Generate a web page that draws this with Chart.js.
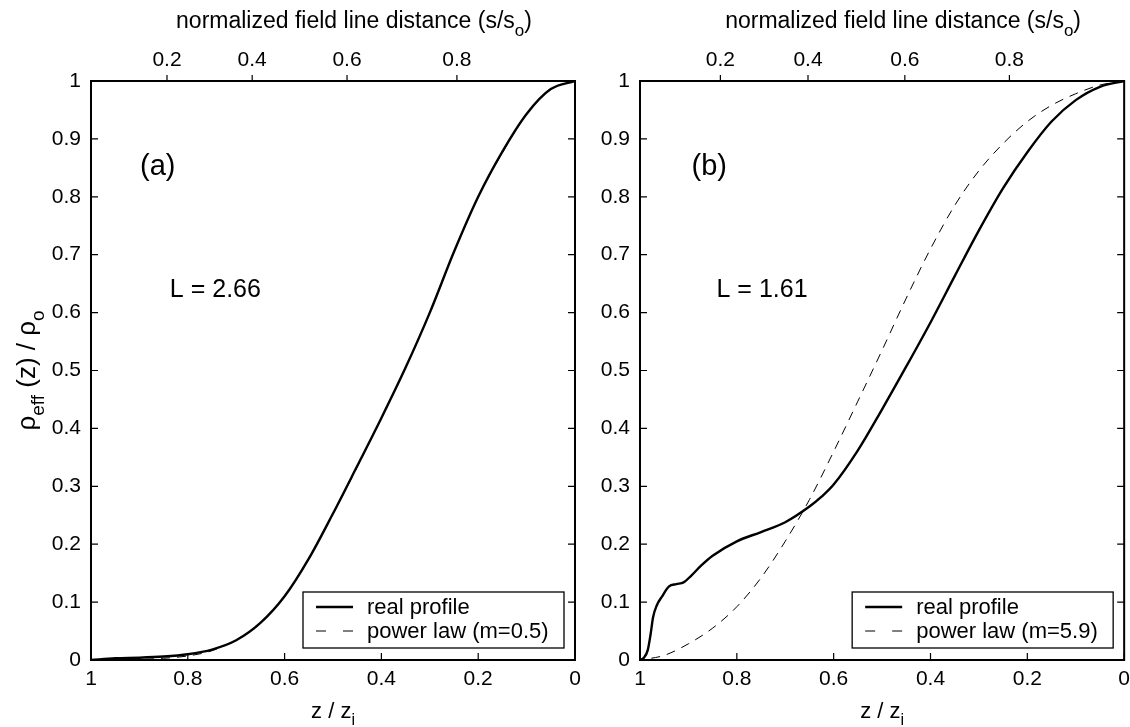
<!DOCTYPE html>
<html><head><meta charset="utf-8">
<script src="https://cdn.jsdelivr.net/npm/chart.js@4.4.1/dist/chart.umd.min.js"></script>
<style>
html,body{margin:0;padding:0;background:#fff;}
#wrap{position:relative;width:1130px;height:727px;overflow:hidden;background:#fff;}
.pane{position:absolute;top:0;height:727px;}
</style></head><body>
<div id="wrap">
<div class="pane" style="left:0;width:600px"><canvas id="c1" width="600" height="727"></canvas></div>
<div class="pane" style="left:600px;width:537px"><canvas id="c2" width="537" height="727"></canvas></div>
</div>
<script>
// ---- data (z / z_i ascending) ----
const leftZ      = [0, 0.05, 0.1, 0.15, 0.2, 0.25, 0.3, 0.35, 0.4, 0.45, 0.5, 0.55, 0.6, 0.65, 0.7, 0.75, 0.8, 0.85, 0.9, 0.95, 1];
const leftReal   = [1, 0.986, 0.943, 0.878, 0.8, 0.705, 0.6, 0.505, 0.418, 0.335, 0.253, 0.175, 0.11, 0.064, 0.034, 0.018, 0.01, 0.006, 0.004, 0.003, 0];
const leftPower  = [1, 0.986, 0.943, 0.876, 0.8, 0.705, 0.6, 0.505, 0.418, 0.333, 0.252, 0.176, 0.11, 0.063, 0.035, 0.016, 0.007, 0.003, 0.001, 0.0003, 0];

const rightRealZ = [0, 0.05, 0.1, 0.15, 0.2, 0.25, 0.3, 0.35, 0.4, 0.45, 0.5, 0.55, 0.6, 0.625, 0.65, 0.7, 0.75, 0.8, 0.85, 0.875, 0.895, 0.91, 0.925, 0.94, 0.955, 0.965, 0.973, 0.978, 0.984, 0.992, 1];
const rightReal  = [1, 0.99, 0.967, 0.93, 0.877, 0.815, 0.742, 0.663, 0.583, 0.507, 0.433, 0.362, 0.303, 0.282, 0.265, 0.238, 0.221, 0.205, 0.18, 0.162, 0.145, 0.134, 0.131, 0.127, 0.109, 0.095, 0.074, 0.045, 0.017, 0.004, 0];
const rightPowZ  = [0, 0.05, 0.1, 0.15, 0.2, 0.25, 0.3, 0.35, 0.4, 0.45, 0.5, 0.55, 0.6, 0.65, 0.7, 0.75, 0.8, 0.85, 0.9, 0.95, 1];
const rightPower = [1, 0.993, 0.978, 0.958, 0.93, 0.892, 0.845, 0.785, 0.71, 0.625, 0.535, 0.447, 0.36, 0.277, 0.205, 0.142, 0.092, 0.055, 0.028, 0.008, 0];

// top axis (normalized field line distance) tick labels and their z/z_i positions
const topTickLabels   = ['0.2', '0.4', '0.6', '0.8'];
const leftTopTickPos  = [0.843, 0.667, 0.471, 0.244];
const rightTopTickPos = [0.834, 0.653, 0.453, 0.237];

const seriesNames = ['real profile'];
const leftPowerName = 'power law (m=0.5)';
const rightPowerName = 'power law (m=5.9)';
const panelLabels = ['(a)', '(b)'];
const lLabels = ['L = 2.66', 'L = 1.61'];

const FONT = "'Liberation Sans', Arial, Helvetica, sans-serif";
const pts = (xs, ys) => xs.map((x, i) => ({x: x, y: ys[i]}));
const fmt = v => String(Math.round(v * 10) / 10);

function drawRich(ctx, segs, x, y, size) {
  const subSize = Math.round(size * 0.72);
  let w = 0;
  segs.forEach(s => { ctx.font = (s.sub ? subSize : size) + 'px ' + FONT; w += ctx.measureText(s.t).width; });
  let cx = x - w / 2;
  ctx.textAlign = 'left'; ctx.textBaseline = 'alphabetic';
  segs.forEach(s => {
    ctx.font = (s.sub ? subSize : size) + 'px ' + FONT;
    ctx.fillText(s.t, cx, y + (s.sub ? size * 0.33 : 0));
    cx += ctx.measureText(s.t).width;
  });
}

const decoPlugin = {
  id: 'deco',
  afterDraw(chart, args, o) {
    const ctx = chart.ctx, ca = chart.chartArea;
    const xs = chart.scales.x, ys = chart.scales.y, xt = chart.scales.x2;
    ctx.save();
    ctx.strokeStyle = '#000'; ctx.fillStyle = '#000';
    ctx.lineWidth = 1.2;
    ctx.beginPath();
    xs.ticks.forEach(t => { const px = xs.getPixelForValue(t.value); ctx.moveTo(px, ca.bottom); ctx.lineTo(px, ca.bottom - 7); });
    ys.ticks.forEach(t => { const py = ys.getPixelForValue(t.value);
      ctx.moveTo(ca.left, py); ctx.lineTo(ca.left + 7, py);
      ctx.moveTo(ca.right, py); ctx.lineTo(ca.right - 7, py); });
    xt.ticks.forEach(t => { const px = xt.getPixelForValue(t.value); ctx.moveTo(px, ca.top); ctx.lineTo(px, ca.top - 6); });
    ctx.stroke();
    // legend
    const lw = 261, lh = 56;
    const lx = ca.right - 11 - lw, ly = ca.bottom - 12 - lh;
    ctx.fillStyle = '#fff'; ctx.fillRect(lx, ly, lw, lh);
    ctx.lineWidth = 1.3; ctx.strokeRect(lx, ly, lw, lh);
    chart.data.datasets.forEach((d, i) => {
      const yy = ly + 15 + i * 24;
      ctx.beginPath();
      ctx.lineWidth = d.borderWidth;
      ctx.setLineDash(d.borderDash && d.borderDash.length ? [10, 17] : []);
      ctx.moveTo(lx + 13, yy); ctx.lineTo(lx + 50, yy); ctx.stroke();
      ctx.setLineDash([]);
      ctx.fillStyle = '#000'; ctx.font = '22px ' + FONT; ctx.textAlign = 'left'; ctx.textBaseline = 'middle';
      ctx.fillText(d.label, lx + 64, yy + 1);
    });
    // frame
    ctx.lineWidth = 2;
    ctx.strokeRect(ca.left, ca.top, ca.right - ca.left, ca.bottom - ca.top);
    // annotations
    ctx.fillStyle = '#000';
    ctx.textAlign = 'center'; ctx.textBaseline = 'middle';
    ctx.font = '29px ' + FONT;
    ctx.fillText(o.panel, xs.getPixelForValue(o.panelPos[0]), ys.getPixelForValue(o.panelPos[1]));
    ctx.font = '25px ' + FONT;
    ctx.fillText(o.lText, xs.getPixelForValue(o.lPos[0]), ys.getPixelForValue(o.lPos[1]));
    // titles
    const cx = (ca.left + ca.right) / 2;
    drawRich(ctx, [{t: 'normalized field line distance (s/s'}, {t: 'o', sub: true}, {t: ')'}], cx + 21, 28, 23);
    drawRich(ctx, [{t: 'z / z'}, {t: 'i', sub: true}], cx, 718, 22);
    if (o.yTitle) {
      ctx.save();
      ctx.translate(35, (ca.top + ca.bottom) / 2);
      ctx.rotate(-Math.PI / 2);
      drawRich(ctx, [{t: 'ρ'}, {t: 'eff', sub: true}, {t: ' (z) / ρ'}, {t: 'o', sub: true}], 0, 0, 26);
      ctx.restore();
    }
    ctx.restore();
  }
};

function makeChart(id, real, power, powerName, topPos, yAxisW, rightPad, decoOpts) {
  return new Chart(document.getElementById(id), {
    type: 'scatter',
    data: { datasets: [
      { label: seriesNames[0], data: real, showLine: true, borderColor: '#000', borderWidth: 2.4, pointRadius: 0, cubicInterpolationMode: 'monotone', fill: false },
      { label: powerName, data: power, showLine: true, borderColor: '#000', borderWidth: 1, borderDash: [9, 7], pointRadius: 0, cubicInterpolationMode: 'monotone', fill: false }
    ]},
    options: {
      responsive: false, animation: false, events: [],
      layout: { padding: { left: 0, right: rightPad, top: 0, bottom: 0 } },
      plugins: { legend: { display: false }, tooltip: { enabled: false }, deco: decoOpts },
      scales: {
        x: { type: 'linear', position: 'bottom', min: 0, max: 1, reverse: true,
             grid: { display: false, drawTicks: false }, border: { display: false },
             ticks: { stepSize: 0.2, color: '#000', font: { family: FONT, size: 21 }, padding: 7, maxRotation: 0, callback: fmt },
             afterFit: s => { s.height = 67; } },
        x2: { type: 'linear', position: 'top', axis: 'x', min: 0, max: 1, reverse: true,
             grid: { display: false, drawTicks: false }, border: { display: false },
             afterBuildTicks: s => { s.ticks = topPos.map(v => ({ value: v })); },
             ticks: { autoSkip: false, color: '#000', font: { family: FONT, size: 21 }, padding: 8, maxRotation: 0,
                      callback: (v, i) => topTickLabels[i] },
             afterFit: s => { s.height = 81; } },
        y: { type: 'linear', position: 'left', min: 0, max: 1,
             grid: { display: false, drawTicks: false }, border: { display: false },
             ticks: { stepSize: 0.1, color: '#000', font: { family: FONT, size: 21 }, padding: 10, callback: fmt },
             afterFit: s => { s.width = yAxisW; } }
      }
    },
    plugins: [decoPlugin]
  });
}

makeChart('c1', pts(leftZ, leftReal), pts(leftZ, leftPower), leftPowerName, leftTopTickPos, 91, 25,
  { panel: panelLabels[0], panelPos: [0.862, 0.851], lText: lLabels[0], lPos: [0.743, 0.639], yTitle: true });
makeChart('c2', pts(rightRealZ, rightReal), pts(rightPowZ, rightPower), rightPowerName, rightTopTickPos, 40, 6,
  { panel: panelLabels[1], panelPos: [0.857, 0.851], lText: lLabels[1], lPos: [0.748, 0.639], yTitle: false });
</script>
</body></html>
